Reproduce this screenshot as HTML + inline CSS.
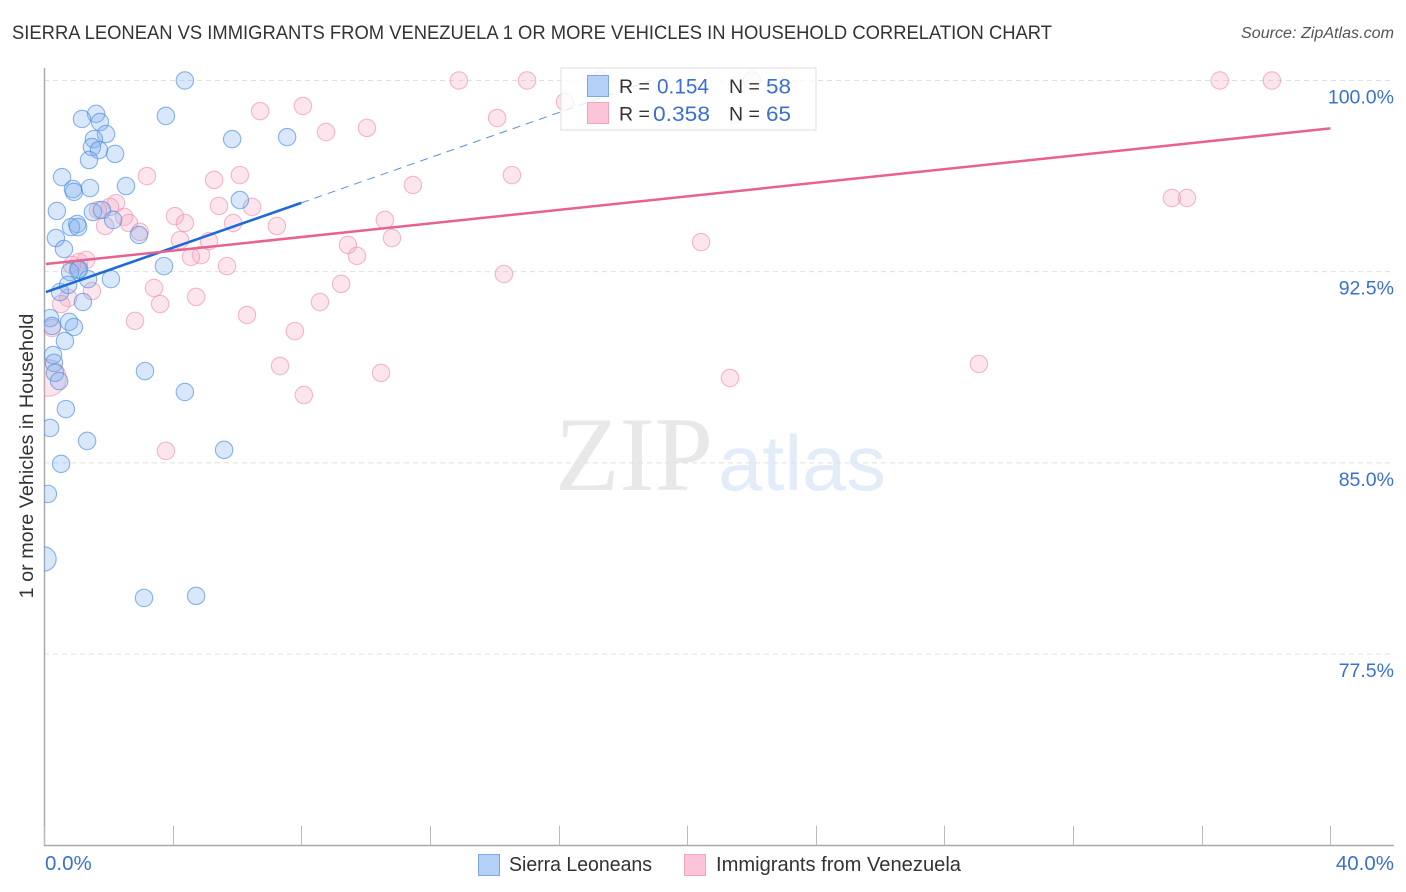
<!DOCTYPE html>
<html lang="en">
<head>
<meta charset="utf-8">
<title>Sierra Leonean vs Immigrants from Venezuela correlation chart</title>
<style>
html,body{margin:0;padding:0;background:#fff;}
svg{display:block;font-family:"Liberation Sans",sans-serif;}
</style>
</head>
<body>
<svg id="chart" width="1406" height="892" viewBox="0 0 1406 892" xmlns="http://www.w3.org/2000/svg">
  <defs>
    <clipPath id="plot-clip"><rect x="44" y="60" width="1350" height="786"/></clipPath>
  </defs>
  <text x="12" y="39" font-size="19" fill="#333" textLength="1040" lengthAdjust="spacingAndGlyphs">SIERRA LEONEAN VS IMMIGRANTS FROM VENEZUELA 1 OR MORE VEHICLES IN HOUSEHOLD CORRELATION CHART</text>
  <text x="1394" y="38" font-size="15.5" font-style="italic" fill="#555" text-anchor="end" textLength="153" lengthAdjust="spacingAndGlyphs">Source: ZipAtlas.com</text>
  <text x="555" y="490" font-family="'Liberation Serif',serif" font-size="106" fill="#e8e8e8" textLength="158" lengthAdjust="spacingAndGlyphs">ZIP</text>
  <text x="718" y="490" font-size="78" fill="#e3ecf9" textLength="168" lengthAdjust="spacingAndGlyphs">atlas</text>
  <g id="grid-layer"></g>
  <g id="axis-layer"></g>
  <g id="marks-layer" clip-path="url(#plot-clip)"></g>
  <text transform="translate(33,456) rotate(-90)" font-size="19.8" fill="#333" text-anchor="middle">1 or more Vehicles in Household</text>

  <g>
    <rect x="561" y="68" width="255" height="62" fill="#fff" fill-opacity="0.8" stroke="#e2e2e2" stroke-width="1.2"/>
    <rect x="587.5" y="75.5" width="21" height="21" fill="#b5d0f7" stroke="#7ea8e2"/>
    <rect x="587.5" y="102.5" width="21" height="21" fill="#fcc4d8" stroke="#f2a4bf"/>
    <g font-size="19.5" fill="#333">
      <text x="619" y="93">R =</text>
      <text x="619" y="120.500">R =</text>
      <text x="729" y="93">N =</text>
      <text x="729" y="120.500">N =</text>
    </g>
    <g font-size="21" fill="#3a70cf">
      <text x="657" y="93.500" textLength="52" lengthAdjust="spacingAndGlyphs">0.154</text>
      <text x="653" y="121" textLength="57" lengthAdjust="spacingAndGlyphs">0.358</text>
      <text x="766" y="93.500" textLength="25" lengthAdjust="spacingAndGlyphs">58</text>
      <text x="766" y="121" textLength="25" lengthAdjust="spacingAndGlyphs">65</text>
    </g>
  </g>

  <g>
    <g>
      <rect x="478.500" y="854.500" width="21" height="21" fill="#b5d0f7" stroke="#7ea8e2"/>
      <text x="509" y="871" font-size="20" fill="#333" textLength="143" lengthAdjust="spacingAndGlyphs">Sierra Leoneans</text>
    </g>
    <g>
      <rect x="684.500" y="854.500" width="21" height="21" fill="#fcc4d8" stroke="#f2a4bf"/>
      <text x="716" y="871" font-size="20" fill="#333" textLength="245" lengthAdjust="spacingAndGlyphs">Immigrants from Venezuela</text>
    </g>
  </g>
</svg>
<script>
var blueX = [4.38,3.79,1.62,1.18,1.74,1.93,1.55,1.49,1.71,2.21,1.40,5.85,7.56,0.56,0.90,0.93,1.43,2.55,6.09,0.40,1.52,1.80,2.15,1.03,0.84,1.06,2.95,0.37,0.62,3.73,1.09,1.06,0.81,1.37,2.08,0.50,0.75,1.21,0.19,0.78,0.93,0.25,0.65,0.28,0.31,0.34,0.47,3.14,4.38,0.68,0.19,1.34,5.60,0.53,0.12,0.00,3.11,4.73,17.23];
var blueY = [100.0,98.61,98.69,98.49,98.37,97.90,97.70,97.39,97.27,97.12,96.88,97.70,97.78,96.21,95.74,95.63,95.78,95.86,95.31,94.88,94.84,94.92,94.53,94.37,94.25,94.25,93.94,93.82,93.39,92.72,92.60,92.57,92.49,92.21,92.21,91.70,91.98,91.31,90.68,90.53,90.33,90.37,89.78,89.23,88.92,88.53,88.21,88.60,87.78,87.11,86.37,85.86,85.51,84.96,83.78,81.23,79.70,79.78,99.82];
var blueSize = [1,1,1,1,1,1,1,1,1,1,1,1,1,1,1,1,1,1,1,1,1,1,1,1,1,1,1,1,1,1,1,1,1,1,1,1,1,1,1,1,1,1,1,1,1,1,1,1,1,1,1,1,1,1,1,1.4,1,1,1];
var pinkX = [3.20,6.72,8.05,8.77,5.29,6.09,5.44,6.47,4.07,4.38,5.88,7.24,2.24,2.05,1.68,2.49,2.64,1.90,2.98,4.23,5.13,4.88,4.57,5.69,9.45,1.31,1.09,0.87,3.42,3.61,4.73,1.49,0.75,0.53,2.83,6.31,8.58,9.24,7.80,0.25,7.34,8.08,3.79,0.12,12.90,15.02,22.01,17.29,16.20,14.09,10.04,11.47,14.55,10.60,10.82,9.73,14.30,20.43,21.33,29.07,10.48,35.07,35.54,36.56,38.18,0.31];
var pinkY = [96.25,98.80,99.00,97.98,96.10,96.29,95.08,95.04,94.68,94.41,94.41,94.29,95.19,95.04,94.92,94.65,94.41,94.29,94.06,93.74,93.70,93.15,93.08,92.72,93.55,92.96,92.88,92.76,91.86,91.23,91.51,91.74,91.47,91.23,90.57,90.80,91.31,92.02,90.17,90.29,88.80,87.66,85.47,88.33,100.0,100.0,100.0,100.0,99.16,98.53,98.14,95.90,96.29,94.53,93.82,93.12,92.41,93.66,88.33,88.88,88.53,95.39,95.39,100.0,100.0,88.72];
var pinkSize = [1,1,1,1,1,1,1,1,1,1,1,1,1,1,1,1,1,1,1,1,1,1,1,1,1,1,1,1,1,1,1,1,1,1,1,1,1,1,1,1,1,1,1,2.1,1,1,1,1,1,1,1,1,1,1,1,1,1,1,1,1,1,1,1,1,1];
var blueTrendX = [0.06,8.0];
var blueTrendY = [91.70,95.20];
var blueDashX = [8.0,18.85];
var blueDashY = [95.20,100.0];
var pinkTrendX = [0.06,40.0];
var pinkTrendY = [92.80,98.12];
var yTicks = [100,92.5,85,77.5];
var yTickLabels = ["100.0%","92.5%","85.0%","77.5%"];
var xTicks = [0,4,8,12,16,20,24,28,32,36,40];
var xEndTicks = [0,40];
var xEndLabels = ["0.0%","40.0%"];

function xScale(v){ return 44 + v * 32.16; }
function yScale(v){ return 80.5 + (100 - v) * 25.49; }

var NS = "http://www.w3.org/2000/svg";
function mk(tag, attrs, parent){
  var el = document.createElementNS(NS, tag);
  for (var k in attrs) { el.setAttribute(k, attrs[k]); }
  parent.appendChild(el);
  return el;
}
var grid = document.getElementById("grid-layer");
var axes = document.getElementById("axis-layer");
var marks = document.getElementById("marks-layer");

yTicks.forEach(function(t, i){
  var y = yScale(t);
  var line = mk("line", {x1:44, x2:1394, y1:y, y2:y, stroke:"#e0e0e0", "stroke-width":1, "stroke-dasharray":"5 4"}, grid);
  
  
  var label = mk("text", {x:1394, y:y + 23, "font-size":19.5, fill:"#3a70cf", "text-anchor":"end"}, axes);
  label.textContent = yTickLabels[i];
  
  
});

var yAxis = mk("line", {x1:44.5, x2:44.5, y1:68, y2:846, stroke:"#aaa", "stroke-width":1.5}, axes);


var xAxis = mk("line", {x1:44, x2:1394, y1:845.5, y2:845.5, stroke:"#aaa", "stroke-width":1.5}, axes);



xTicks.forEach(function(t){
  var x = Math.round(xScale(t)) + 0.5;
  var tick = mk("line", {x1:x, x2:x, y1:826, y2:845, stroke:"#bbb", "stroke-width":1}, axes);
  
  
});

xEndTicks.forEach(function(t, i){
  var label = mk("text", {x: i === 0 ? xScale(t) + 1 : 1394, y:870, "font-size":20.5, fill:"#3a70cf", "text-anchor": i === 0 ? "start" : "end"}, axes);
  label.textContent = xEndLabels[i];
  
  
});

pinkX.forEach(function(v, i){
  var c = mk("circle", {cx:xScale(v), cy:yScale(pinkY[i]), r:8.7 * pinkSize[i], fill:"#f8a9c4", "fill-opacity":0.3, stroke:"#ee92b2", "stroke-opacity":0.65, "stroke-width":1.1}, marks);
  
  
});
blueX.forEach(function(v, i){
  var c = mk("circle", {cx:xScale(v), cy:yScale(blueY[i]), r:8.7 * blueSize[i], fill:"#7fb0ee", "fill-opacity":0.3, stroke:"#4f8ddc", "stroke-opacity":0.65, "stroke-width":1.1}, marks);
  
  
});

var dash = mk("line", {x1:xScale(blueDashX[0]), y1:yScale(blueDashY[0]), x2:xScale(blueDashX[1]), y2:yScale(blueDashY[1]), stroke:"#5b8fd8", "stroke-width":1, "stroke-dasharray":"8 6"}, marks);


var blueLine = mk("line", {x1:xScale(blueTrendX[0]), y1:yScale(blueTrendY[0]), x2:xScale(blueTrendX[1]), y2:yScale(blueTrendY[1]), stroke:"#1f6bd6", "stroke-width":2.6}, marks);


var pinkLine = mk("line", {x1:xScale(pinkTrendX[0]), y1:yScale(pinkTrendY[0]), x2:xScale(pinkTrendX[1]), y2:yScale(pinkTrendY[1]), stroke:"#e8628f", "stroke-width":2.5}, marks);


</script>
</body>
</html>
